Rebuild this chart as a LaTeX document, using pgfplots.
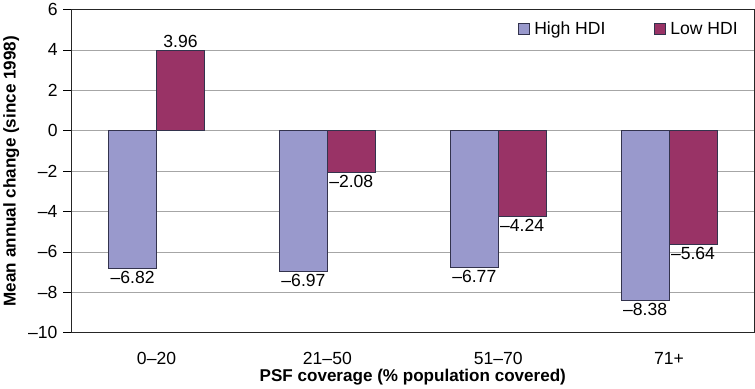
\documentclass[border=0pt]{standalone}
\usepackage{fontspec}
\setmainfont{Liberation Sans}
\usepackage{pgfplots}
\pgfplotsset{compat=1.18}
\definecolor{hi}{HTML}{9999CC}
\definecolor{lo}{HTML}{993366}
\definecolor{edge}{HTML}{33334D}
\begin{document}
\begin{tikzpicture}
\begin{axis}[
  scale only axis, width=681pt, height=322pt,
  ybar, bar width=0.28,
  xmin=-0.5, xmax=3.5, ymin=-10, ymax=6,
  xtick={0,1,2,3}, xticklabels={0–20,21–50,51–70,71+},
  ytick={-10,-8,-6,-4,-2,0,2,4,6},
  yticklabels={–10,–8,–6,–4,–2,0,2,4,6},
  major x tick style={draw=none},
  ytick pos=left, tick align=outside,
  major tick length=8pt,
  y tick style={black, line width=0.8pt},
  ymajorgrids, grid style={gray!70, line width=0.8pt},
  axis line style={black!85, line width=1pt},
  tick label style={font=\fontsize{17.5}{19}\selectfont},
  yticklabel style={xshift=-2pt},
  xticklabel style={yshift=-8pt},
  xlabel={\bfseries PSF coverage (\% population covered)},
  ylabel={\bfseries Mean annual change (since 1998)},
  label style={font=\fontsize{17}{19}\selectfont},
  xlabel style={yshift=2pt},
  ylabel style={yshift=2pt},
  legend style={at={(0.983,0.975)}, anchor=north east, draw=none, fill=none,
    legend columns=2, font=\fontsize{17.5}{19}\selectfont,
    /tikz/every odd column/.append style={column sep=3pt},
    /tikz/every even column/.append style={column sep=46pt}},
  legend image code/.code={\draw[#1, line width=0.6pt] (0pt,-5.5pt) rectangle (11pt,5.5pt);},
  nodes near coords,
  point meta=explicit symbolic,
  every node near coord/.append style={font=\fontsize{17.5}{19}\selectfont, inner sep=2.5pt, anchor=north},
]
\addplot[fill=hi, draw=edge, line width=0.8pt, bar shift=-0.14]
  coordinates {(0,-6.82) [–6.82] (1,-6.97) [–6.97] (2,-6.77) [–6.77] (3,-8.38) [–8.38]};
\addplot[fill=lo, draw=edge, line width=0.8pt, bar shift=0.14]
  coordinates {(1,-2.08) [–2.08] (2,-4.24) [–4.24] (3,-5.64) [–5.64]};
\addplot[fill=lo, draw=edge, line width=0.8pt, bar shift=0.14, forget plot,
  every node near coord/.append style={anchor=south}]
  coordinates {(0,3.96) [3.96]};
\legend{High HDI, Low HDI}
\end{axis}
\end{tikzpicture}
\end{document}
